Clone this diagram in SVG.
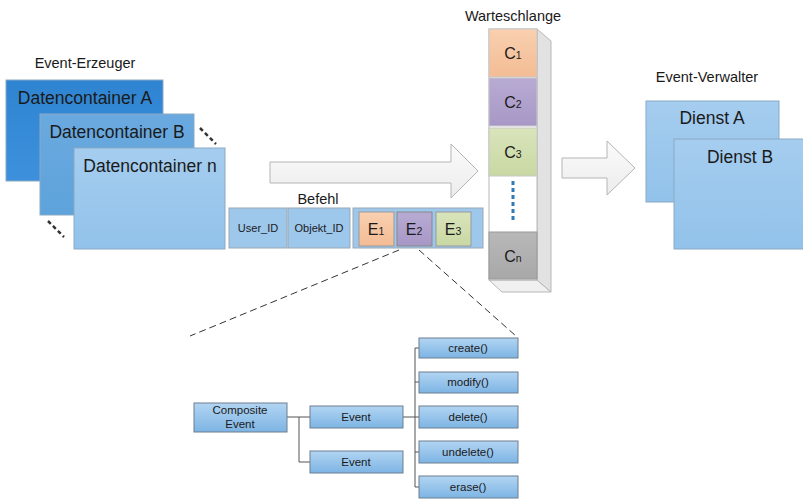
<svg xmlns="http://www.w3.org/2000/svg" width="803" height="499" viewBox="0 0 803 499">
<defs>
<linearGradient id="gA" x1="0" y1="0" x2="0" y2="1"><stop offset="0" stop-color="#2f84d2"/><stop offset="1" stop-color="#3d91dc"/></linearGradient>
<linearGradient id="gB" x1="0" y1="0" x2="0" y2="1"><stop offset="0" stop-color="#6aa9df"/><stop offset="1" stop-color="#5ea3dc"/></linearGradient>
<linearGradient id="gL" x1="0" y1="0" x2="0" y2="1"><stop offset="0" stop-color="#a5cdef"/><stop offset="1" stop-color="#92c2ea"/></linearGradient>
<linearGradient id="gT" x1="0" y1="0" x2="0" y2="1"><stop offset="0" stop-color="#b2d5f2"/><stop offset="1" stop-color="#7db4e4"/></linearGradient>
<linearGradient id="gArr" x1="0" y1="0" x2="0" y2="1"><stop offset="0" stop-color="#fbfbfb"/><stop offset="1" stop-color="#ececec"/></linearGradient>
<linearGradient id="gC1" x1="0" y1="0" x2="0" y2="1"><stop offset="0" stop-color="#f9d0b0"/><stop offset="1" stop-color="#f3bc94"/></linearGradient>
<linearGradient id="gC2" x1="0" y1="0" x2="0" y2="1"><stop offset="0" stop-color="#b8abd3"/><stop offset="1" stop-color="#a797c6"/></linearGradient>
<linearGradient id="gC3" x1="0" y1="0" x2="0" y2="1"><stop offset="0" stop-color="#d9e4bb"/><stop offset="1" stop-color="#c9d8a3"/></linearGradient>
<linearGradient id="gCn" x1="0" y1="0" x2="0" y2="1"><stop offset="0" stop-color="#b8b8b8"/><stop offset="1" stop-color="#a8a8a8"/></linearGradient>
</defs>
<style>
text{font-family:"Liberation Sans",Arial,sans-serif;fill:#1a1a1a}
.lbl{font-size:14.5px}
.big{font-size:17.5px}
.cell{font-size:11px}
.sm{font-size:11.5px}
.q{font-size:16px}
.box{stroke:#8aa9c4;stroke-width:1}
.tb{fill:url(#gT);stroke:#6c7f90;stroke-width:1}
.arr{fill:url(#gArr);stroke:#b5b5b5;stroke-width:1}
.dash{fill:none;stroke:#333;stroke-width:1;stroke-dasharray:7,4}
.thick{fill:none;stroke:#333;stroke-width:2.5;stroke-dasharray:4,3}
.conn{fill:none;stroke:#555;stroke-width:1}
</style>
<rect width="803" height="499" fill="#ffffff"/>

<g id="erzeuger">
<text class="lbl" x="85" y="68" text-anchor="middle">Event-Erzeuger</text>
<g id="containerA"><rect x="6" y="80" width="157" height="101" fill="url(#gA)" class="box"/><text class="big" x="85" y="104" text-anchor="middle">Datencontainer A</text></g>
<g id="containerB"><rect x="40" y="114" width="154" height="101" fill="url(#gB)" class="box"/><text class="big" x="117" y="138" text-anchor="middle">Datencontainer B</text></g>
<g id="containerN"><rect x="74" y="148" width="151" height="101" fill="url(#gL)" class="box"/><text class="big" x="150" y="172" text-anchor="middle">Datencontainer n</text></g>
<line x1="200" y1="128" x2="216" y2="144" class="thick"/>
<line x1="48" y1="221" x2="64" y2="237" class="thick"/>
</g>

<g id="arrow1"><path d="M270,162 H451 V144 L478,171 L451,198 V183 H270 Z" class="arr"/></g>

<g id="befehl">
<text class="lbl" x="318" y="204" text-anchor="middle">Befehl</text>
<rect x="229" y="208" width="58" height="40" fill="#9ec7ec" stroke="#9aa9b6"/>
<text class="cell" x="258" y="232" text-anchor="middle">User_ID</text>
<rect x="288" y="208" width="62" height="40" fill="#9ec7ec" stroke="#9aa9b6"/>
<text class="cell" x="319" y="232" text-anchor="middle">Objekt_ID</text>
<rect x="353" y="208" width="130" height="40" fill="#9ec7ec" stroke="#9aa9b6"/>
<rect x="359" y="212" width="35" height="34" fill="url(#gC1)" stroke="#999"/>
<text class="q" x="376" y="235" text-anchor="middle">E<tspan font-size="10.5">1</tspan></text>
<rect x="397" y="212" width="35" height="34" fill="url(#gC2)" stroke="#888"/>
<text class="q" x="414" y="235" text-anchor="middle">E<tspan font-size="10.5">2</tspan></text>
<rect x="436" y="212" width="35" height="34" fill="url(#gC3)" stroke="#999"/>
<text class="q" x="453" y="235" text-anchor="middle">E<tspan font-size="10.5">3</tspan></text>
</g>

<g id="warteschlange">
<text class="lbl" x="513" y="21" text-anchor="middle">Warteschlange</text>
<path d="M489,280 L502,292 H551 L537,280 Z" fill="#f0f0f0" stroke="#b8b8b8"/>
<path d="M537,29 L551,41 V292 L537,280 Z" fill="#e2e2e2" stroke="#b8b8b8"/>
<rect x="489" y="29" width="48" height="251" fill="#ffffff" stroke="#b8b8b8"/>
<rect x="489" y="29" width="48" height="48" fill="url(#gC1)" stroke="#c8c8c8"/>
<text class="q" x="513" y="59" text-anchor="middle">C<tspan font-size="10.5">1</tspan></text>
<rect x="489" y="78" width="48" height="48" fill="url(#gC2)" stroke="#c8c8c8"/>
<text class="q" x="513" y="108" text-anchor="middle">C<tspan font-size="10.5">2</tspan></text>
<rect x="489" y="128" width="48" height="48" fill="url(#gC3)" stroke="#c8c8c8"/>
<text class="q" x="513" y="158" text-anchor="middle">C<tspan font-size="10.5">3</tspan></text>
<line x1="513" y1="181" x2="513" y2="222" stroke="#2f7bb6" stroke-width="3" stroke-dasharray="4,3"/>
<rect x="489" y="232" width="48" height="47" fill="url(#gCn)" stroke="#999"/>
<text class="q" x="513" y="262" text-anchor="middle">C<tspan font-size="10.5">n</tspan></text>
</g>

<g id="arrow2"><path d="M562,158 H607 V141 L635,168 L607,195 V178 H562 Z" class="arr"/></g>

<g id="verwalter">
<text class="lbl" x="707" y="82" text-anchor="middle">Event-Verwalter</text>
<g id="dienstA"><rect x="646" y="101" width="133" height="101" fill="url(#gL)" class="box"/><text class="big" x="712" y="124" text-anchor="middle">Dienst A</text></g>
<g id="dienstB"><rect x="674" y="139" width="135" height="110" fill="url(#gL)" class="box"/><text class="big" x="740" y="163" text-anchor="middle">Dienst B</text></g>
</g>

<g id="connectors">
<line x1="399" y1="250" x2="190" y2="336" class="dash"/>
<line x1="419" y1="250" x2="516" y2="336" class="dash" stroke-dasharray="5,3"/>
<path d="M287,417 H310 M299,417 V462 H310" class="conn"/>
<path d="M403,417 H419 M415,348 V487 M415,348 H419 M415,382 H419 M415,452 H419 M415,487 H419" class="conn"/>
</g>

<g id="composite"><rect x="194" y="403" width="93" height="29" class="tb"/><text class="sm" x="240" y="414" text-anchor="middle">Composite</text><text class="sm" x="240" y="428" text-anchor="middle">Event</text></g>
<g id="event1"><rect x="310" y="406" width="93" height="22" class="tb"/><text class="sm" x="356" y="421" text-anchor="middle">Event</text></g>
<g id="event2"><rect x="310" y="451" width="93" height="22" class="tb"/><text class="sm" x="356" y="466" text-anchor="middle">Event</text></g>
<g id="create"><rect x="419" y="338" width="99" height="20" class="tb"/><text class="sm" x="468" y="352" text-anchor="middle">create()</text></g>
<g id="modify"><rect x="419" y="372" width="99" height="21" class="tb"/><text class="sm" x="468" y="386" text-anchor="middle">modify()</text></g>
<g id="delete"><rect x="419" y="406" width="99" height="22" class="tb"/><text class="sm" x="468" y="421" text-anchor="middle">delete()</text></g>
<g id="undelete"><rect x="419" y="441" width="99" height="22" class="tb"/><text class="sm" x="468" y="456" text-anchor="middle">undelete()</text></g>
<g id="erase"><rect x="419" y="476" width="99" height="22" class="tb"/><text class="sm" x="468" y="491" text-anchor="middle">erase()</text></g>
</svg>
